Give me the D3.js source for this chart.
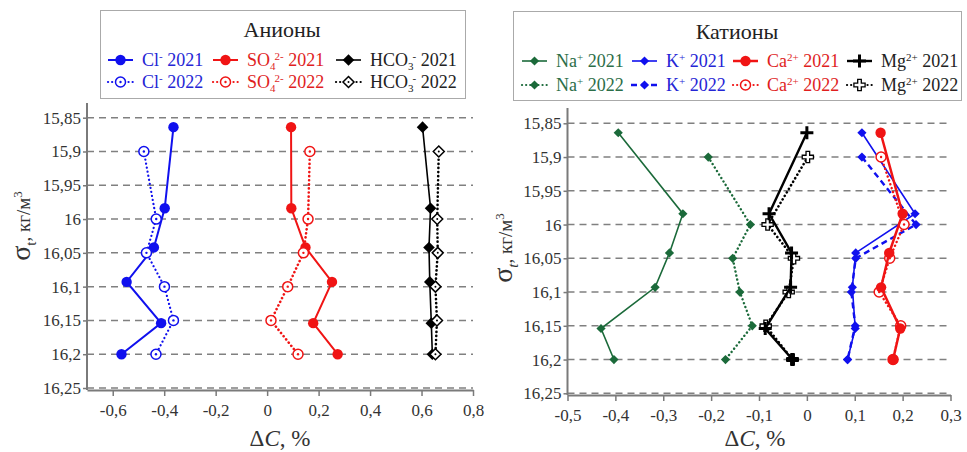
<!DOCTYPE html>
<html>
<head>
<meta charset="utf-8">
<script src="https://cdn.jsdelivr.net/npm/d3@7"></script>
<style>
  html, body { margin: 0; padding: 0; background: #fff; }
  svg { display: block; }
</style>
</head>
<body>
<svg id="chart" width="967" height="452"></svg>
<script>
// ---------- DATA ----------
const sigma2021 = [15.864, 15.984, 16.042, 16.093, 16.154, 16.2];
const sigma2022 = [15.9, 16.0, 16.05, 16.1, 16.15, 16.2];

// Anions
const cl2021   = [-0.364, -0.398, -0.440, -0.546, -0.412, -0.566];
const cl2022   = [-0.479, -0.431, -0.469, -0.399, -0.364, -0.432];
const so4_2021 = [0.093, 0.094, 0.149, 0.252, 0.179, 0.274];
const so4_2022 = [0.166, 0.159, 0.141, 0.080, 0.015, 0.120];
const hco3_2021 = [0.604, 0.635, 0.629, 0.632, 0.638, 0.642];
const hco3_2022 = [0.667, 0.661, 0.663, 0.654, 0.660, 0.654];

// Cations
const na2021 = [-0.394, -0.259, -0.287, -0.317, -0.430, -0.403];
const na2022 = [-0.206, -0.118, -0.155, -0.140, -0.114, -0.170];
const k2021  = [0.115, 0.226, 0.102, 0.095, 0.101, 0.085];
const k2022  = [0.115, 0.228, 0.102, 0.093, 0.101, 0.085];
const ca2021 = [0.154, 0.200, 0.172, 0.155, 0.195, 0.180];
const ca2022 = [0.155, 0.203, 0.173, 0.151, 0.196, 0.180];
const mg2021 = [0.000, -0.079, -0.032, -0.034, -0.087, -0.030];
const mg2022 = [0.002, -0.082, -0.027, -0.038, -0.086, -0.030];

const yTicks = [15.85, 15.9, 15.95, 16.0, 16.05, 16.1, 16.15, 16.2, 16.25];
const yTickLabels = ["15,85", "15,9", "15,95", "16", "16,05", "16,1", "16,15", "16,2", "16,25"];
const xTicksLeft = [-0.6, -0.4, -0.2, 0, 0.2, 0.4, 0.6, 0.8];
const xTicksRight = [-0.5, -0.4, -0.3, -0.2, -0.1, 0, 0.1, 0.2, 0.3];

// ---------- STYLE ----------
const FONT = "'Liberation Serif','Times New Roman',serif";
const BLUE = "#1010ee", RED = "#f01414", GREEN = "#1b6a3a", BLACK = "#000";
const TXT_BLUE = "#2525d5", TXT_RED = "#e01e1e", TXT_GREEN = "#2c6e48", TXT_BLACK = "#222";
const AXIS = "#7a7a7a", GRID = "#808080";

const svg = d3.select("#chart");

// marker drawing
function marker(g, type, color, cx, cy) {
  const m = g.append("g").attr("transform", `translate(${cx},${cy})`);
  switch (type) {
    case "circle":
      m.append("circle").attr("r", 5.2).attr("fill", color);
      break;
    case "ocircle":
      m.append("circle").attr("r", 5).attr("fill", "#fff").attr("stroke", color).attr("stroke-width", 1.5);
      m.append("circle").attr("r", 1.2).attr("fill", color);
      break;
    case "diamond": {
      const r = 5.8;
      m.append("path").attr("d", `M0,${-r}L${r},0L0,${r}L${-r},0Z`).attr("fill", color);
      break; }
    case "odiamond": {
      const r = 5.5;
      m.append("path").attr("d", `M0,${-r}L${r},0L0,${r}L${-r},0Z`).attr("fill", "#fff").attr("stroke", color).attr("stroke-width", 1.5);
      m.append("circle").attr("r", 1).attr("fill", color);
      break; }
    case "sdiamond": {
      const r = 4.6;
      m.append("path").attr("d", `M0,${-r}L${r},0L0,${r}L${-r},0Z`).attr("fill", color);
      break; }
    case "plus":
      m.append("path").attr("d", "M-6.5,0H6.5M0,-6.5V6.5").attr("stroke", color).attr("stroke-width", 3);
      break;
    case "oplus": {
      const a = 1.8, b = 5.6;
      m.append("path").attr("d",
        `M${-a},${-b}H${a}V${-a}H${b}V${a}H${a}V${b}H${-a}V${a}H${-b}V${-a}H${-a}Z`)
        .attr("fill", "#fff").attr("stroke", color).attr("stroke-width", 1.3);
      break; }
  }
}

function drawSeries(g, x, y, xs, ys, s) {
  const pts = xs.map((v, i) => [x(v), y(ys[i])]);
  const line = d3.line();
  const p = g.append("path").attr("d", line(pts)).attr("fill", "none")
    .attr("stroke", s.color).attr("stroke-width", s.width);
  if (s.dash === "dotted") p.attr("stroke-dasharray", "0.1,4").attr("stroke-linecap", "round").attr("stroke-width", s.width + 0.6);
  else if (s.dash === "dashed") p.attr("stroke-dasharray", "6,4");
  pts.forEach(pt => marker(g, s.marker, s.color, pt[0], pt[1]));
}

function fmt(v) {
  if (Math.abs(v) < 1e-9) return "0";
  return String(+v.toFixed(2)).replace(".", ",");
}

function panel(opt) {
  const x = d3.scaleLinear().domain(opt.xDomain).range(opt.xRange);
  const y = d3.scaleLinear().domain([15.85, 16.25]).range(opt.yRange);
  const g = svg.append("g");

  // grid
  g.append("g").selectAll("line").data(yTicks).join("line")
    .attr("x1", opt.xRange[0]).attr("x2", opt.xRange[1])
    .attr("y1", d => y(d)).attr("y2", d => y(d))
    .attr("stroke", GRID).attr("stroke-width", 1.5).attr("stroke-dasharray", "7,5");

  // y axis
  const yAxis = d3.axisLeft(y).tickValues(yTicks)
    .tickFormat((d, i) => yTickLabels[i]).tickSize(4).tickPadding(2);
  const ya = g.append("g").attr("transform", `translate(${opt.xRange[0]},0)`).call(yAxis);
  ya.select(".domain").remove();
  ya.selectAll(".tick line").attr("stroke", AXIS).attr("stroke-width", 1.5);
  ya.selectAll(".tick text").attr("font-family", FONT).attr("font-size", 17).attr("fill", "#333");
  g.append("line").attr("x1", opt.xRange[0]).attr("x2", opt.xRange[0])
    .attr("y1", opt.yTop).attr("y2", opt.xAxisY).attr("stroke", AXIS).attr("stroke-width", 2);

  // x axis
  const xAxis = d3.axisBottom(x).tickValues(opt.xTicks).tickFormat(fmt)
    .tickSizeInner(6).tickSizeOuter(0).tickPadding(8);
  const xa = g.append("g").attr("transform", `translate(0,${opt.xAxisY})`).call(xAxis);
  xa.select(".domain").attr("stroke", AXIS).attr("stroke-width", 2);
  xa.selectAll(".tick line").attr("stroke", AXIS).attr("stroke-width", 1.5);
  xa.selectAll(".tick text").attr("font-family", FONT).attr("font-size", 17).attr("fill", "#333");

  // series
  opt.series.forEach(s => drawSeries(g, x, y, s.xs, s.ys, s));

  // x title
  const xt = svg.append("text").attr("x", opt.xTitleX).attr("y", 446)
    .attr("text-anchor", "middle").attr("font-family", FONT).attr("font-size", 23).attr("fill", "#333");
  xt.append("tspan").text("Δ");
  xt.append("tspan").attr("font-style", "italic").text("C");
  xt.append("tspan").text(", %");

  // y title
  const yt = svg.append("text")
    .attr("transform", `translate(${opt.yTitleX},${opt.yTitleY}) rotate(-90)`)
    .attr("text-anchor", "middle").attr("font-family", FONT).attr("fill", "#333");
  yt.append("tspan").attr("font-size", 28).text("σ");
  yt.append("tspan").attr("font-size", 15).attr("dy", 6).attr("font-style", opt.italicT ? "italic" : "normal").text("t");
  yt.append("tspan").attr("font-size", 19).attr("dy", -6).text(", кг/м");
  yt.append("tspan").attr("font-size", 13).attr("dy", -8).text("3");
}

panel({
  xDomain: [-0.7, 0.8], xRange: [87, 473], yRange: [117.7, 388],
  yTop: 103, xAxisY: 390, xTicks: xTicksLeft, xTitleX: 280,
  yTitleX: 30, yTitleY: 226, italicT: false,
  series: [
    { xs: cl2021, ys: sigma2021, color: BLUE, width: 2, dash: "solid", marker: "circle" },
    { xs: cl2022, ys: sigma2022, color: BLUE, width: 1.6, dash: "dotted", marker: "ocircle" },
    { xs: so4_2021, ys: sigma2021, color: RED, width: 2, dash: "solid", marker: "circle" },
    { xs: so4_2022, ys: sigma2022, color: RED, width: 2, dash: "dotted", marker: "ocircle" },
    { xs: hco3_2021, ys: sigma2021, color: BLACK, width: 1.6, dash: "solid", marker: "diamond" },
    { xs: hco3_2022, ys: sigma2022, color: BLACK, width: 2, dash: "dotted", marker: "odiamond" }
  ]
});

panel({
  xDomain: [-0.5, 0.3], xRange: [567.5, 950.5], yRange: [123.3, 393.3],
  yTop: 108, xAxisY: 395, xTicks: xTicksRight, xTitleX: 755,
  yTitleX: 512, yTitleY: 248, italicT: true,
  series: [
    { xs: na2021, ys: sigma2021, color: GREEN, width: 1.6, dash: "solid", marker: "sdiamond" },
    { xs: na2022, ys: sigma2022, color: GREEN, width: 1.8, dash: "dotted", marker: "sdiamond" },
    { xs: mg2022, ys: sigma2022, color: BLACK, width: 2, dash: "dotted", marker: "oplus" },
    { xs: mg2021, ys: sigma2021, color: BLACK, width: 2.4, dash: "solid", marker: "plus" },
    { xs: k2021, ys: sigma2021, color: BLUE, width: 1.6, dash: "solid", marker: "sdiamond" },
    { xs: k2022, ys: sigma2022, color: BLUE, width: 2.4, dash: "dashed", marker: "sdiamond" },
    { xs: ca2022, ys: sigma2022, color: RED, width: 1.8, dash: "dotted", marker: "ocircle" },
    { xs: ca2021, ys: sigma2021, color: RED, width: 2.5, dash: "solid", marker: "circle" }
  ]
});

// ---------- LEGENDS ----------
function rich(textSel, parts) {
  parts.forEach(p => {
    const t = textSel.append("tspan").text(p.t);
    if (p.k === "sup") t.attr("font-size", 11).attr("dy", -6);
    else if (p.k === "sub") t.attr("font-size", 11).attr("dy", 4);
    else if (p.k === "supAfterSub") t.attr("font-size", 11).attr("dy", -10).attr("dx", -1);
    else if (p.k === "back") t.attr("dy", p.dy);
  });
}

function legendItem(g, x, y, s, color, txtColor, parts) {
  const p = g.append("line").attr("x1", x).attr("x2", x + 25).attr("y1", y).attr("y2", y)
    .attr("stroke", color).attr("stroke-width", s.width);
  if (s.dash === "dotted") p.attr("stroke-dasharray", "0.1,4").attr("stroke-linecap", "round").attr("stroke-width", 2.2);
  if (s.dash === "dashed") p.attr("stroke-dasharray", "6,4").attr("x1", x - 1).attr("x2", x + 26);
  marker(g, s.marker, color, x + 12.5, y);
  const t = g.append("text").attr("x", x + 34).attr("y", y + 6)
    .attr("font-family", FONT).attr("font-size", 18).attr("fill", txtColor);
  rich(t, parts);
}

// left legend
const lg = svg.append("g");
lg.append("rect").attr("x", 100.5).attr("y", 10.5).attr("width", 365).attr("height", 88)
  .attr("fill", "#fff").attr("stroke", "#aaa").attr("stroke-width", 1);
lg.append("text").attr("x", 282).attr("y", 37).attr("text-anchor", "middle")
  .attr("font-family", FONT).attr("font-size", 22).attr("fill", "#222").text("Анионы");
const clP = y => [{ t: "Cl" }, { t: "-", k: "sup" }, { t: " " + y, k: "back", dy: 6 }];
const so4P = y => [{ t: "SO" }, { t: "4", k: "sub" }, { t: "2-", k: "supAfterSub" }, { t: " " + y, k: "back", dy: 6 }];
const hcoP = y => [{ t: "HCO" }, { t: "3", k: "sub" }, { t: "-", k: "supAfterSub" }, { t: " " + y, k: "back", dy: 6 }];
legendItem(lg, 108, 60, { width: 2, dash: "solid", marker: "circle" }, BLUE, TXT_BLUE, clP("2021"));
legendItem(lg, 108, 82, { width: 1.6, dash: "dotted", marker: "ocircle" }, BLUE, TXT_BLUE, clP("2022"));
legendItem(lg, 213, 60, { width: 2, dash: "solid", marker: "circle" }, RED, TXT_RED, so4P("2021"));
legendItem(lg, 213, 82, { width: 2, dash: "dotted", marker: "ocircle" }, RED, TXT_RED, so4P("2022"));
legendItem(lg, 336, 60, { width: 1.6, dash: "solid", marker: "diamond" }, BLACK, TXT_BLACK, hcoP("2021"));
legendItem(lg, 336, 82, { width: 2, dash: "dotted", marker: "odiamond" }, BLACK, TXT_BLACK, hcoP("2022"));

// right legend
const rg = svg.append("g");
rg.append("rect").attr("x", 513.5).attr("y", 11.5).attr("width", 448).attr("height", 89)
  .attr("fill", "#fff").attr("stroke", "#aaa").attr("stroke-width", 1);
rg.append("text").attr("x", 737).attr("y", 39).attr("text-anchor", "middle")
  .attr("font-family", FONT).attr("font-size", 22).attr("fill", "#222").text("Катионы");
const ionP = (b, c, y) => [{ t: b }, { t: c, k: "sup" }, { t: " " + y, k: "back", dy: 6 }];
legendItem(rg, 522, 61, { width: 1.6, dash: "solid", marker: "sdiamond" }, GREEN, TXT_GREEN, ionP("Na", "+", "2021"));
legendItem(rg, 522, 85, { width: 1.8, dash: "dotted", marker: "sdiamond" }, GREEN, TXT_GREEN, ionP("Na", "+", "2022"));
legendItem(rg, 632, 61, { width: 1.6, dash: "solid", marker: "sdiamond" }, BLUE, TXT_BLUE, ionP("K", "+", "2021"));
legendItem(rg, 632, 85, { width: 2.4, dash: "dashed", marker: "sdiamond" }, BLUE, TXT_BLUE, ionP("K", "+", "2022"));
legendItem(rg, 733, 61, { width: 2.5, dash: "solid", marker: "circle" }, RED, TXT_RED, ionP("Ca", "2+", "2021"));
legendItem(rg, 733, 85, { width: 1.8, dash: "dotted", marker: "ocircle" }, RED, TXT_RED, ionP("Ca", "2+", "2022"));
legendItem(rg, 847, 61, { width: 2.4, dash: "solid", marker: "plus" }, BLACK, TXT_BLACK, ionP("Mg", "2+", "2021"));
legendItem(rg, 847, 85, { width: 2, dash: "dotted", marker: "oplus" }, BLACK, TXT_BLACK, ionP("Mg", "2+", "2022"));
</script>
</body>
</html>
